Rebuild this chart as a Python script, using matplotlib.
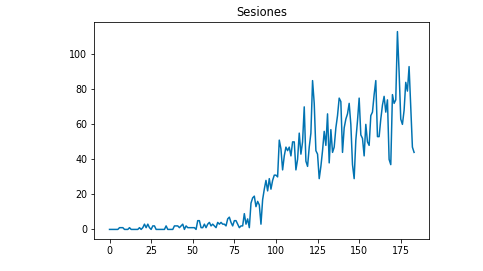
import matplotlib
matplotlib.use("Agg")
import matplotlib.pyplot as plt
import numpy as np

sesiones = [
    0, 0, 0, 0, 0, 0, 1, 1, 1, 0,
    0, 0, 1, 0, 0, 0, 0, 0, 1, 0,
    1, 3, 1, 3, 1, 0, 2, 2, 0, 0,
    0, 0, 0, 0, 2, 0, 0, 0, 0, 2,
    2, 2, 1, 2, 3, 0, 2, 1, 1, 1,
    1, 1, 0, 5, 5, 1, 1, 3, 1, 3,
    4, 2, 3, 2, 1, 4, 3, 4, 3, 3,
    2, 6, 7, 4, 2, 5, 5, 3, 1, 2,
    2, 9, 3, 6, 1, 15, 18, 19, 13, 16,
    14, 3, 17, 23, 28, 22, 29, 23, 28, 31,
    31, 30, 51, 46, 34, 42, 47, 45, 47, 42,
    50, 50, 34, 40, 55, 43, 50, 70, 39, 36,
    47, 55, 85, 72, 45, 43, 29, 36, 45, 56,
    48, 66, 38, 57, 44, 47, 58, 65, 75, 73,
    44, 58, 63, 66, 72, 60, 37, 29, 51, 62,
    75, 54, 52, 42, 60, 50, 48, 65, 67, 77,
    85, 53, 53, 63, 71, 76, 67, 74, 40, 37,
    77, 72, 74, 113, 90, 63, 60, 68, 84, 79,
    93, 70, 47, 44,
]
dias = np.arange(len(sesiones))

W, H = 483, 271
fig = plt.figure(figsize=(W / 72, H / 72), dpi=72)
ax = fig.add_axes([94.3 / W, (H - 239.3) / H, 335 / W, 217.6 / H])

ax.plot(dias, sesiones, color="#0173b2", linewidth=1.5)
ax.set_title("Sesiones", fontsize=11.5)
ax.set_xticks([0, 25, 50, 75, 100, 125, 150, 175])
ax.set_yticks([0, 20, 40, 60, 80, 100])
ax.tick_params(labelsize=9.5)

fig.savefig("out.png", dpi=72)
